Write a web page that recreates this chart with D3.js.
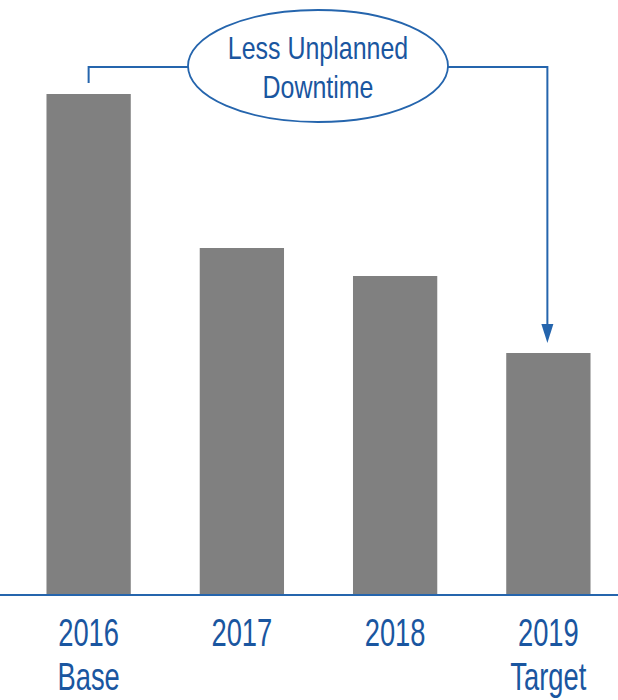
<!DOCTYPE html>
<html>
<head>
<meta charset="utf-8">
<script src="https://cdn.jsdelivr.net/npm/d3@7"></script>
<style>
  body { margin: 0; background: #fff; }
  text { font-family: "Liberation Sans", Arial, sans-serif; }
</style>
</head>
<body>
<svg id="chart" width="618" height="700"></svg>
<script>
// data
var years = ["2016", "2017", "2018", "2019"];
var subLabels = ["Base", "", "", "Target"];
var downtime = [100, 69.2, 63.6, 48.2];   // relative to 2016 base
var calloutText = ["Less Unplanned", "Downtime"];

var blue = "#2565ad";
var textBlue = "#1a56a0";
var narrow = 0.75;   // no narrow font installed, squeeze instead

var svg = d3.select("#chart");

var x = d3.scaleBand()
  .domain(years)
  .range([12, 625])
  .paddingInner(0.45)
  .paddingOuter(0.225);

var y = d3.scaleLinear()
  .domain([0, 100])
  .range([594, 94]);

// bars
svg.append("g")
  .selectAll("rect")
  .data(years)
  .join("rect")
  .attr("x", d => x(d))
  .attr("y", (d, i) => y(downtime[i]))
  .attr("width", x.bandwidth())
  .attr("height", (d, i) => y(0) - y(downtime[i]))
  .attr("fill", "#808080");

// baseline
svg.append("line")
  .attr("x1", 0).attr("x2", 618)
  .attr("y1", y(0) + 1).attr("y2", y(0) + 1)
  .attr("stroke", blue)
  .attr("stroke-width", 2);

// category labels
var lab = svg.append("g")
  .selectAll("g")
  .data(years)
  .join("g")
  .attr("transform", d => `translate(${x(d) + x.bandwidth() / 2},0) scale(0.72,1)`);

lab.append("text")
  .attr("y", 646)
  .attr("text-anchor", "middle")
  .attr("fill", textBlue)
  .attr("font-size", 38)
  .text(d => d);

lab.append("text")
  .attr("y", 690)
  .attr("text-anchor", "middle")
  .attr("fill", textBlue)
  .attr("font-size", 38)
  .text((d, i) => subLabels[i]);

// callout: bracket from the base bar to the target bar
var cx = 318, cy = 66, rx = 130, ry = 56;
var xs = x(years[0]) + x.bandwidth() / 2;
var xe = x(years[3]) + x.bandwidth() / 2 - 1;
var lineY = 67;
var tipY = y(downtime[3]) - 10;

svg.append("path")
  .attr("d", `M${xs},${y(downtime[0]) - 11}V${lineY}H${cx - rx}`)
  .attr("fill", "none")
  .attr("stroke", blue)
  .attr("stroke-width", 2);

svg.append("path")
  .attr("d", `M${cx + rx},${lineY}H${xe}V${tipY - 14}`)
  .attr("fill", "none")
  .attr("stroke", blue)
  .attr("stroke-width", 2);

svg.append("path")
  .attr("d", `M${xe - 6},${tipY - 19}L${xe + 6},${tipY - 19}L${xe},${tipY}Z`)
  .attr("fill", blue);

svg.append("ellipse")
  .attr("cx", cx).attr("cy", cy)
  .attr("rx", rx).attr("ry", ry)
  .attr("fill", "#fff")
  .attr("stroke", blue)
  .attr("stroke-width", 1.8);

svg.append("g")
  .attr("transform", `translate(${cx},0) scale(0.78,1)`)
  .selectAll("text")
  .data(calloutText)
  .join("text")
  .attr("x", 0)
  .attr("y", (d, i) => 59 + i * 39)
  .attr("text-anchor", "middle")
  .attr("fill", textBlue)
  .attr("font-size", 32)
  .text(d => d);
</script>
</body>
</html>
